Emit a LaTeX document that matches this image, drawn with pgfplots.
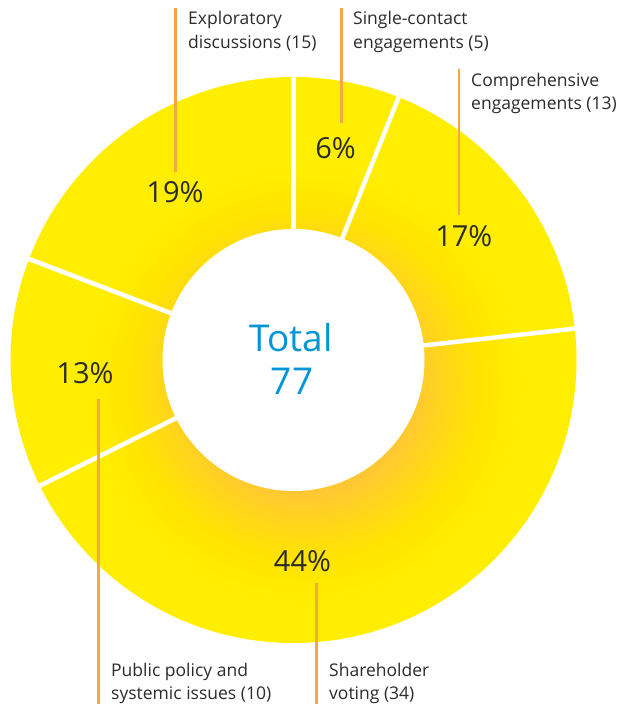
\documentclass[border=0pt]{standalone}
\usepackage{pgfplots}
\pgfplotsset{compat=1.18}
\usepackage{pgfplotstable}
\usepackage{fontspec}
\setmainfont{Open Sans}
\definecolor{dOr}{HTML}{FFC832}
\definecolor{dOrB}{HTML}{FFD41E}
\definecolor{dMid}{HTML}{FFE400}
\definecolor{dYel}{HTML}{FFEE00}
\definecolor{textgray}{HTML}{2B2B2B}
\definecolor{tblue}{HTML}{0096D6}
\definecolor{leadc}{HTML}{F6A845}
\pgfdeclareradialshading{donutshade}{\pgfpoint{0bp}{0bp}}{color(0bp)=(dOr); color(6.5bp)=(dOr); color(8bp)=(dOrB); color(10.5bp)=(dMid); color(13bp)=(dYel); color(50bp)=(dYel)}
% percentage shares (as printed), and label centres
\pgfplotstableread{
pct lx ly
6 335.5 -148
17 463.8 -236
44 302.5 -561
13 85 -373
19 175 -192
}\donutdata
\begin{document}
\begin{tikzpicture}
\useasboundingbox (0,0) rectangle (625pt,706pt);
\begin{axis}[
  at={(0,0)}, anchor=south west,
  width=625pt, height=706pt, scale only axis,
  xmin=0, xmax=625, ymin=-706, ymax=0,
  hide axis, clip=false]
\def\cx{293.5}\def\cy{-360}
% ring with radial shading
\begin{scope}
\clip (axis cs:\cx,\cy) circle[radius=283pt];
\shade[shading=donutshade] (axis cs:305,-385) circle[radius=420pt];
\end{scope}
\fill[white] (axis cs:\cx,\cy) circle[radius=131pt];
% total of shares
\def\total{0}
\pgfplotsforeachungrouped \i in {0,...,4}{%
  \pgfplotstablegetelem{\i}{pct}\of\donutdata
  \pgfmathsetmacro\total{\total+\pgfplotsretval}%
}
% white separators at cumulative boundaries
\def\cum{0}
\pgfplotsforeachungrouped \i in {0,...,4}{%
  \pgfmathsetmacro\ang{90-360*(\cum/\total)}%
  \edef\cmd{\noexpand\draw[white, line width=4.5pt] (axis cs:{\cx+110*cos(\ang)},{\cy+110*sin(\ang)}) -- (axis cs:{\cx+300*cos(\ang)},{\cy+300*sin(\ang)});}\cmd
  \pgfplotstablegetelem{\i}{pct}\of\donutdata
  \pgfmathsetmacro\cum{\cum+\pgfplotsretval}%
}
% percentage labels
\pgfplotsforeachungrouped \i in {0,...,4}{%
  \pgfplotstablegetelem{\i}{pct}\of\donutdata\let\p\pgfplotsretval
  \pgfplotstablegetelem{\i}{lx}\of\donutdata\let\lx\pgfplotsretval
  \pgfplotstablegetelem{\i}{ly}\of\donutdata\let\ly\pgfplotsretval
  \edef\cmd{\noexpand\node[inner sep=0pt, text=textgray, font=\noexpand\fontsize{29}{34}\noexpand\selectfont] at (axis cs:\lx,\ly) {\p\noexpand\%};}\cmd
}
% centre text
\node[inner sep=0pt, anchor=base, text=tblue, font=\fontsize{37}{44}\selectfont] at (axis cs:291,-352) {Total};
\node[inner sep=0pt, anchor=base, text=tblue, font=\fontsize{37}{44}\selectfont] at (axis cs:292,-395) {77};
% leader lines
\draw[leadc, line width=2.8pt] (axis cs:175.7,-8) -- (axis cs:175.7,-172);
\draw[leadc, line width=2.8pt] (axis cs:341.7,-8) -- (axis cs:341.7,-123);
\draw[leadc, line width=2.8pt] (axis cs:459,-69) -- (axis cs:459,-215);
\draw[leadc, line width=2.8pt] (axis cs:98.5,-399) -- (axis cs:98.5,-704);
\draw[leadc, line width=2.8pt] (axis cs:316.7,-583) -- (axis cs:316.7,-704);
% category labels
\tikzset{cat/.style={inner sep=0pt, anchor=base west, text=textgray, font=\fontsize{17.5}{24}\selectfont}}
\node[cat] at (axis cs:188,-25) {Exploratory};
\node[cat] at (axis cs:188,-49) {discussions (15)};
\node[cat] at (axis cs:353,-25) {Single-contact};
\node[cat] at (axis cs:353,-49) {engagements (5)};
\node[cat] at (axis cs:471,-87) {Comprehensive};
\node[cat] at (axis cs:471,-110) {engagements (13)};
\node[cat] at (axis cs:111,-677) {Public policy and};
\node[cat] at (axis cs:111,-700) {systemic issues (10)};
\node[cat] at (axis cs:329,-677) {Shareholder};
\node[cat] at (axis cs:329,-700) {voting (34)};
\end{axis}
\end{tikzpicture}
\end{document}
